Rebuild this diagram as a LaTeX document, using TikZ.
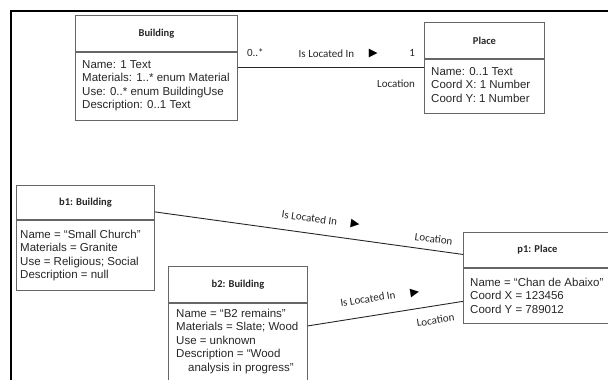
\documentclass[tikz,border=0pt]{standalone}
\usepackage{fontspec}
\setmainfont{Liberation Sans}
\newfontfamily\hdrfont{Carlito}
\newfontfamily\symfont{DejaVu Sans}
\usetikzlibrary{calc}

\begin{document}
\begin{tikzpicture}[x=1pt,y=-1pt,
  frame/.style={line width=1.4pt, draw=black},
  umlbox/.style={draw=black!60, line width=0.9pt, inner sep=0pt, anchor=north west},
  title/.style={umlbox, font=\hdrfont\bfseries\fontsize{10.5}{12}\selectfont, text=black!85},
  attrs/.style={inner sep=0pt, anchor=north west, align=left,
    font=\fontsize{11.5}{13.5}\selectfont, text=black!85},
  assoc/.style={draw=black!85, line width=0.9pt},
  role/.style={inner sep=0pt, sloped, font=\hdrfont\fontsize{11}{13}\selectfont, text=black!85},
  dirmark/.style={inner sep=0pt, sloped, font=\symfont\fontsize{11.5}{12}\selectfont}
]
\useasboundingbox (0,0) rectangle (608,380);
\clip (0,0) rectangle (608,380);

% frame of the figure
\coordinate (frameBL) at (11,400);
\coordinate (frameTL) at (11,11);
\coordinate (frameTR) at (620,11);
\draw[frame] (frameBL) -- (frameTL) -- (frameTR);

% class Building
\node[title, minimum width=162, minimum height=36] (bH) at (75,15) {Building};
\node[umlbox, minimum width=162, minimum height=68] (bB) at (bH.south west) {};
\node[attrs] (bA) at ($(bB.north west)+(7,8)$)
  {Name: 1 Text\\Materials: 1..* enum Material\\Use: 0..* enum BuildingUse\\Description: 0..1 Text};

% class Place
\node[title, minimum width=120, minimum height=36] (pH) at (424,22) {Place};
\node[umlbox, minimum width=120, minimum height=54] (pB) at (pH.south west) {};
\node[attrs] (pA) at ($(pB.north west)+(7,8)$)
  {Name: 0..1 Text\\Coord X: 1 Number\\Coord Y: 1 Number};

% object b1
\node[title, minimum width=138, minimum height=34] (b1H) at (16,185) {b1: Building};
\node[umlbox, minimum width=138, minimum height=70] (b1B) at (b1H.south west) {};
\node[attrs] (b1A) at ($(b1B.north west)+(4,10)$)
  {Name = “Small Church”\\Materials = Granite\\Use = Religious; Social\\Description = null};

% object b2
\node[title, minimum width=139, minimum height=36] (b2H) at (168,266) {b2: Building};
\node[umlbox, minimum width=139, minimum height=130] (b2B) at (b2H.south west) {};
\node[attrs] (b2A) at ($(b2B.north west)+(8,6)$)
  {Name = “B2 remains”\\Materials = Slate; Wood\\Use = unknown\\Description = “Wood\\\hspace*{12pt}analysis in progress”};

% object p1
\node[title, minimum width=148, minimum height=35] (p1H) at (463,232) {p1: Place};
\node[umlbox, minimum width=148, minimum height=55] (p1B) at (p1H.south west) {};
\node[attrs] (p1A) at ($(p1B.north west)+(7,10)$)
  {Name = “Chan de Abaixo”\\Coord X = 123456\\Coord Y = 789012};

% association Building -- Place
\coordinate (s1) at ($(bB.north east)+(0,16)$);
\coordinate (e1) at (pB.west |- s1);
\draw[assoc] (s1) --
  node[role, pos=0.094, above=10.5] {0..*}
  node[role, pos=0.476, above=10] {Is Located In}
  node[dirmark, pos=0.727, above=9.5] {▶}
  node[role, pos=0.936, above=10.5] {1}
  node[role, pos=0.85, below=12] {Location}
  (e1);

% link b1 -- p1
\coordinate (s2) at ($(b1H.south east)+(0,-8)$);
\coordinate (e2) at ($(p1H.west)+(0,4.5)$);
\draw[assoc] (s2) --
  node[role, pos=0.495, above=11] {Is Located In}
  node[dirmark, pos=0.643, above=10.5] {▶}
  node[role, pos=0.90, above=7] {Location}
  (e2);

% link b2 -- p1
\coordinate (s3) at ($(b2B.north east)+(0,23)$);
\coordinate (e3) at ($(p1B.west)+(0,5.5)$);
\draw[assoc] (s3) --
  node[role, pos=0.404, above=13] {Is Located In}
  node[dirmark, pos=0.705, above=11.5] {▶}
  node[role, pos=0.808, below=10] {Location}
  (e3);
\end{tikzpicture}
\end{document}
